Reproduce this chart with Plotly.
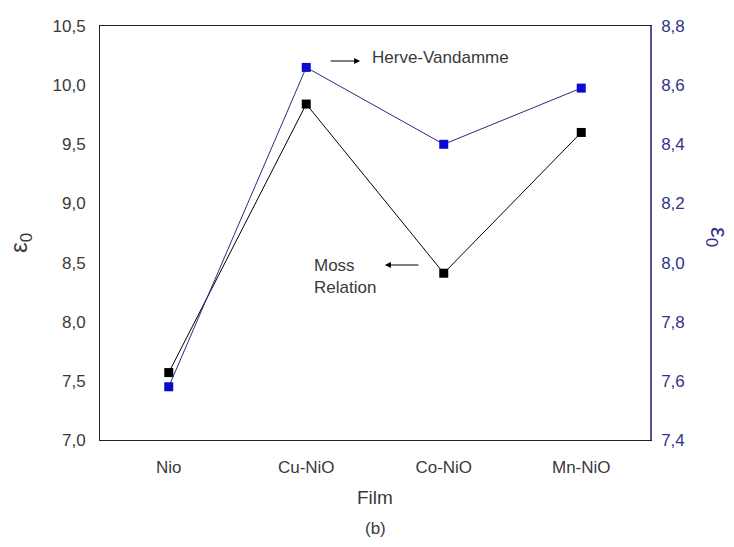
import plotly.graph_objects as go

# Films and the two optical dielectric constant estimates
films = ["Nio", "Cu-NiO", "Co-NiO", "Mn-NiO"]
moss_eps0 = [7.57, 9.84, 8.41, 9.60]        # Moss relation (left axis)
herve_eps0 = [7.58, 8.66, 8.40, 8.59]       # Herve-Vandamme (right axis)

left_ticks = [7.0, 7.5, 8.0, 8.5, 9.0, 9.5, 10.0, 10.5]
left_labels = ["7,0", "7,5", "8,0", "8,5", "9,0", "9,5", "10,0", "10,5"]
right_ticks = [7.4, 7.6, 7.8, 8.0, 8.2, 8.4, 8.6, 8.8]
right_labels = ["7,4", "7,6", "7,8", "8,0", "8,2", "8,4", "8,6", "8,8"]

FONT = "Liberation Sans, Arial, sans-serif"
GREY = "#3a3a3a"
NAVY = "#33338a"
FS = 17

fig = go.Figure()

fig.add_trace(go.Scatter(
    x=films, y=moss_eps0, mode="lines+markers",
    line=dict(color="black", width=1),
    marker=dict(symbol="square", size=9, color="black"),
    showlegend=False,
))
fig.add_trace(go.Scatter(
    x=films, y=herve_eps0, mode="lines+markers", yaxis="y2",
    line=dict(color="#2b2b80", width=1),
    marker=dict(symbol="square", size=9, color="#0a0ad0"),
    showlegend=False,
))

fig.update_layout(
    width=734, height=547,
    margin=dict(l=100, r=84, t=26, b=107),
    paper_bgcolor="white", plot_bgcolor="white",
    font=dict(family=FONT, size=FS, color=GREY),
    xaxis=dict(
        range=[-0.5, 3.5], showgrid=False, zeroline=False, automargin=False,
        showline=True, linecolor="#222222", linewidth=1, mirror=True,
        ticks="", ticklabelstandoff=12, tickfont=dict(size=FS, color=GREY),
    ),
    yaxis=dict(
        range=[7.0, 10.5], tickvals=left_ticks, ticktext=left_labels,
        showgrid=False, zeroline=False, automargin=False,
        showline=True, linecolor="#222222", linewidth=1,
        ticks="", ticklabelstandoff=10, tickfont=dict(size=FS, color=GREY),
    ),
    yaxis2=dict(
        range=[7.4, 8.8], tickvals=right_ticks, ticktext=right_labels,
        overlaying="y", side="right", automargin=False,
        showgrid=False, zeroline=False,
        showline=True, linecolor="#55559a", linewidth=1.5,
        ticks="", ticklabelstandoff=6, tickfont=dict(size=FS, color=NAVY),
    ),
)

# Axis titles
fig.add_annotation(
    xref="paper", yref="paper", x=0, y=0.5, xshift=-80, yshift=-10,
    xanchor="center", yanchor="middle",
    text="ε<sub>0</sub>", textangle=-90, showarrow=False,
    font=dict(size=24, color=GREY),
)
fig.add_annotation(
    xref="paper", yref="paper", x=1.0, y=0.5, xshift=68, yshift=-4,
    xanchor="center", yanchor="middle",
    text="ε<sub>0</sub>", textangle=90, showarrow=False,
    font=dict(size=24, color=NAVY),
)
fig.add_annotation(
    xref="paper", yref="paper", x=0.5, y=0, yshift=-57, yanchor="middle",
    text="Film", showarrow=False, font=dict(size=19, color=GREY),
)

# Series labels with their pointer arrows
fig.add_annotation(
    xref="paper", yref="paper", x=0.491, y=0.925, xanchor="left", yanchor="middle",
    text="Herve-Vandamme", showarrow=False, font=dict(size=FS, color=GREY),
)
fig.add_annotation(
    xref="paper", yref="paper", x=0.473, y=0.9155,
    ax=-31, ay=0, text="", showarrow=True,
    arrowhead=2, arrowsize=1, arrowwidth=1.2, arrowcolor="black",
)
fig.add_annotation(
    xref="paper", yref="paper", x=0.385, y=0.394, xanchor="left", yanchor="middle",
    text="Moss<br>Relation", align="left", showarrow=False,
    font=dict(size=FS, color=GREY),
)
fig.add_annotation(
    xref="paper", yref="paper", x=0.518, y=0.4227,
    ax=35, ay=0, text="", showarrow=True,
    arrowhead=2, arrowsize=1, arrowwidth=1.2, arrowcolor="black",
)

# Panel label under the axis title
fig.add_annotation(
    xref="paper", yref="paper", x=0.5, y=0, yshift=-88, yanchor="middle",
    text="(b)", showarrow=False, font=dict(size=FS, color=GREY),
)

fig.write_html("out.html")
